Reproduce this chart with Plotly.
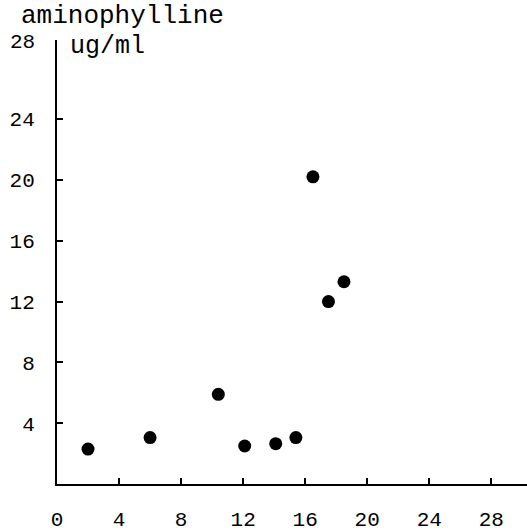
import plotly.graph_objects as go

# data
x_vals = [2, 6, 10.4, 12.1, 14.1, 15.4, 16.5, 17.5, 18.5]
y_vals = [2.3, 3.05, 5.9, 2.5, 2.65, 3.05, 20.2, 12.0, 13.3]

x_ticks = [0, 4, 8, 12, 16, 20, 24, 28]
y_ticks = [4, 8, 12, 16, 20, 24]
y_top_label = "28"
title_line1 = "aminophylline"
title_line2 = "ug/ml"

FONT = "Liberation Mono"

fig = go.Figure()
fig.add_trace(go.Scatter(
    x=x_vals, y=y_vals, mode="markers",
    marker=dict(color="black", size=13),
    showlegend=False, cliponaxis=False,
))

fig.update_layout(
    width=527, height=532,
    margin=dict(l=57, r=0, t=40, b=42),
    paper_bgcolor="white", plot_bgcolor="white",
    font=dict(family=FONT, color="black"),
    xaxis=dict(
        range=[0, 30.3], tickvals=x_ticks, ticktext=[str(v) for v in x_ticks],
        showgrid=False, zeroline=False, showline=True, linecolor="black", linewidth=2,
        ticks="inside", ticklen=6, tickwidth=2, tickcolor="black",
        tickfont=dict(family=FONT, size=21, color="black"), ticklabelstandoff=15,
    ),
    yaxis=dict(
        range=[0, 29.2], tickvals=y_ticks, ticktext=[str(v) for v in y_ticks],
        showgrid=False, zeroline=False, showline=True, linecolor="black", linewidth=2,
        ticks="inside", ticklen=6, tickwidth=2, tickcolor="black",
        tickfont=dict(family=FONT, size=21, color="black"), ticklabelstandoff=16,
    ),
    annotations=[
        dict(text=title_line1, xref="paper", yref="paper", x=-57/450, y=1 + 24/450,
             xanchor="left", yanchor="middle", showarrow=False, xshift=22,
             font=dict(family=FONT, size=26, color="black")),
        dict(text=y_top_label, xref="paper", yref="paper", x=0, y=1 - 3/450,
             xanchor="right", yanchor="middle", showarrow=False, xshift=-20,
             font=dict(family=FONT, size=21, color="black")),
        dict(text=title_line2, xref="paper", yref="paper", x=0, y=1 - 7/450,
             xanchor="left", yanchor="middle", showarrow=False, xshift=11,
             font=dict(family=FONT, size=25, color="black")),
    ],
)

fig.write_html("out.html")
